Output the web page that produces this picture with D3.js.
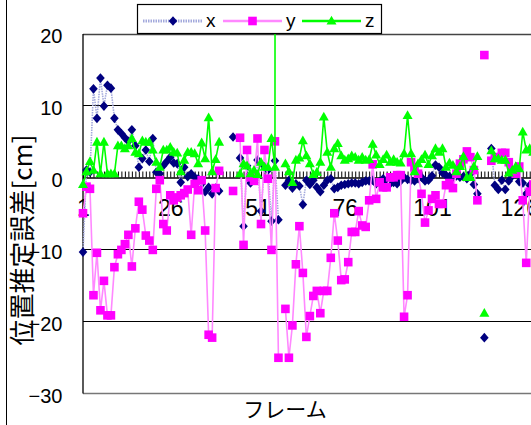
<!DOCTYPE html>
<html>
<head>
<meta charset="utf-8">
<script src="https://cdn.jsdelivr.net/npm/d3@7/dist/d3.min.js"></script>
<style>
  html, body { margin: 0; padding: 0; background: #fff; }
  svg { display: block; }
</style>
</head>
<body>
<svg id="chart" width="531" height="425"></svg>
<script>
// Frame numbers (category axis) and labelled frames
const frameCount = 140;
const frameLabels = [1, 26, 51, 76, 101, 126];
const yTicks = [-30, -20, -10, 0, 10, 20];

// Position estimation error per frame [cm]; null = missing frame
const xErr = [
  -10.4, 1.0, 0.7, 12.3, 8.2, 13.8, 9.9, 12.8, 12.4, 8.2,
  6.6, 6.1, 5.5, 5.0, 6.6, 4.4, 1.4, 2.6, 3.8, 2.2,
  5.4, 0.7, 0.5, 1.6, 2.2, 2.8, 2.0, 1.9, -0.7, 1.4,
  0.1, 0.5, 0.0, -0.2, -0.9, -2.0, -1.4, -2.3, -1.5, -1.9,
  null, null, null, 5.6, null, 2.7, -6.8, 1.6, -0.8, 0.3,
  2.4, -4.7, 1.5, 1.0, -6.1, 2.3, -5.9, null, -1.1, -0.4,
  -1.5, -0.9, -1.2, -3.8, -0.4, -1.0, -0.4, -1.4, -2.0, -1.1,
  -0.4, -0.2, -1.6, -1.4, -1.1, -1.0, -0.9, -0.8, -0.8, -0.9,
  -0.7, -0.5, -0.5, -0.4, -0.9, -0.6, -0.2, -0.5, -0.9, -0.7,
  -0.9, -0.5, 0.0, -0.3, -0.4, -0.5, -0.2, 0.0, -0.5, -0.4,
  0.2, 1.7, 1.4, 0.6, 0.3, 0.1, 0.0, 0.2, 0.0, 0.1,
  -0.2, 0.5, -1.0, -2.3, null, -22.3, null, 4.0, -1.1, -1.7,
  -0.4, -1.7, -0.5, 0.2, 0.5, -0.6, -0.8, -2.3, -1.1, -1.5
];
const yErr = [
  -5.0, -1.3, -1.6, -16.4, -10.5, -18.5, -14.4, -19.2, -19.2, -12.5,
  -10.7, -10.1, -9.3, -8.0, -12.4, -7.1, -3.4, -4.5, -8.1, -8.8,
  -10.1, -1.6, -0.4, -6.5, -7.4, -2.5, -3.2, -2.8, -2.5, -2.2,
  -1.7, -8.0, -0.9, -1.8, -0.4, -7.4, -21.9, -22.3, -1.5, 0.9,
  null, null, null, -1.9, null, 5.5, -9.4, 3.8, 0.0, -0.5,
  5.4, -6.5, 3.8, -0.2, -10.1, 5.0, -25.1, null, -18.3, -25.1,
  -20.6, -12.1, -6.8, -13.3, -22.2, -19.3, -16.5, -15.8, -18.9, -15.8,
  -15.8, -11.2, -5.0, -8.8, -14.3, -14.2, -11.8, -7.6, -7.6, -4.7,
  -6.7, -6.9, -3.2, 1.8, -3.0, -0.7, -1.4, -1.4, 0.0, 0.0,
  0.3, 0.3, -19.4, -16.4, 2.1, 1.4, 0.5, -2.3, -6.3, -4.6,
  -3.0, -2.5, -3.7, -3.7, -1.1, -0.8, -1.5, 0.5, 1.9, 2.5,
  3.6, 2.8, 1.0, -3.2, null, 17.0, null, 2.3, 2.8, 2.8,
  3.4, 3.4, 2.1, 1.0, 0.5, 1.5, -3.2, -11.9, -2.0, -1.0
];
const zErr = [
  -1.0, 0.8, 2.2, 1.0, 4.9, 0.5, 4.9, 0.5, 0.5, 0.5,
  4.4, 4.4, 4.0, 4.4, 5.4, 3.5, 3.3, 5.1, 4.9, 4.9,
  3.8, 2.1, 1.4, 3.8, 3.8, 4.2, 3.5, 3.4, 0.8, 2.4,
  3.5, 3.5, 3.3, 1.9, 4.8, 2.6, 8.3, 0.8, 2.5, 4.9,
  null, null, null, null, null, 0.5, 1.9, 1.6, 0.5, 1.0,
  0.4, 2.1, 1.4, 1.4, 5.4, 1.4, 900, null, 1.9, 0.8,
  -0.7, 2.4, 2.7, 5.1, 3.0, 1.9, 0.4, 0.7, 2.1, 8.4,
  3.5, 1.4, 4.0, 4.7, 3.0, 2.4, 2.6, 3.0, 2.8, 2.4,
  2.8, 2.4, 2.5, 4.6, 3.1, 1.8, 2.5, 3.1, 2.1, 2.5,
  2.1, 2.0, 3.3, 8.6, 3.3, 0.8, 1.9, 2.5, 3.1, 1.8,
  3.0, 4.0, 3.5, 4.0, 1.4, 2.0, 1.7, 0.8, 1.5, 2.9,
  0.0, 0.0, 1.5, 2.9, null, -18.9, null, 3.7, 2.6, 2.6,
  2.4, 2.4, 0.6, 1.0, 1.5, 1.2, 6.3, 3.8, 4.0, 3.5
];

const seriesNames = ["x", "y", "z"];

const svg = d3.select("#chart");
const W = 531, H = 425;

// plot area
const plot = { left: 83, top: 33.5, bottom: 393 };
const step = 3.49;
const frames = d3.range(1, frameCount + 1);

const x = d3.scalePoint()
  .domain(frames)
  .range([plot.left, plot.left + (frameCount - 1) * step]);
const y = d3.scaleLinear().domain([-30, 20]).range([plot.bottom, plot.top]);

const numFont = "'Liberation Sans Narrow', 'Liberation Sans', Arial, sans-serif";
const cjkFont = "'Noto Sans CJK JP', 'Noto Sans CJK SC', sans-serif";

// chart area border
svg.append("rect")
  .attr("x", 6.5).attr("y", -2).attr("width", W + 10).attr("height", H + 10)
  .attr("fill", "#fff").attr("stroke", "#000").attr("stroke-width", 1);

// horizontal gridlines
svg.append("g").selectAll("line")
  .data([10, -10, -20])
  .join("line")
  .attr("x1", plot.left).attr("x2", W + 5)
  .attr("y1", d => Math.round(y(d)) + 0.5).attr("y2", d => Math.round(y(d)) + 0.5)
  .attr("stroke", "#000").attr("stroke-width", 1);

// plot frame (top and bottom edges)
svg.append("line")
  .attr("x1", plot.left).attr("x2", W + 5)
  .attr("y1", Math.round(y(20)) + 0.5).attr("y2", Math.round(y(20)) + 0.5)
  .attr("stroke", "#444").attr("stroke-width", 1.3);
svg.append("line")
  .attr("x1", plot.left).attr("x2", W + 5)
  .attr("y1", Math.round(y(-30)) + 0.5).attr("y2", Math.round(y(-30)) + 0.5)
  .attr("stroke", "#777").attr("stroke-width", 1.3);

// y axis
const yAxis = svg.append("g")
  .attr("transform", `translate(${plot.left - 0.5},0)`)
  .call(d3.axisLeft(y).tickValues(yTicks).tickSize(0).tickPadding(20)
    .tickFormat(d => d < 0 ? "\u2212" + Math.abs(d) : String(d)));
yAxis.select(".domain").attr("stroke", "#000").attr("stroke-width", 1.3);
yAxis.selectAll("text")
  .attr("font-family", numFont).attr("font-size", 20).attr("fill", "#000")
  .attr("dy", "0.45em");

// x axis along zero, with small tick marks at each frame
const xAxis = svg.append("g")
  .attr("transform", `translate(0,${Math.round(y(0)) + 0.5})`)
  .call(d3.axisBottom(x).tickSize(-6).tickPadding(22)
    .tickFormat(d => frameLabels.includes(d) ? String(d) : ""));
xAxis.select(".domain").attr("stroke", "#000").attr("stroke-width", 1.3);
xAxis.selectAll(".tick line").attr("stroke", "#000").attr("stroke-width", 1);
xAxis.selectAll("text")
  .attr("font-family", numFont).attr("font-size", 23).attr("fill", "#000");

// axis titles
svg.append("text")
  .attr("transform", `translate(32,240) rotate(-90)`)
  .attr("text-anchor", "middle")
  .attr("font-family", cjkFont).attr("font-size", 26).attr("fill", "#000")
  .text("位置推定誤差[cm]");
svg.append("text")
  .attr("x", 285).attr("y", 417)
  .attr("text-anchor", "middle")
  .attr("font-family", cjkFont).attr("font-size", 21).attr("fill", "#000")
  .text("フレーム");

// clip for lines
svg.append("clipPath").attr("id", "plotClip")
  .append("rect").attr("x", 0).attr("y", plot.top).attr("width", W + 10).attr("height", plot.bottom - plot.top);

// marker shapes centred on (0,0)
const markerPaths = {
  diamond: "M0,-4.8L4.3,0L0,4.8L-4.3,0Z",
  square: "M-4.3,-4.3H4.3V4.3H-4.3Z",
  triangle: "M0,-5.2L5,3.6H-5Z"
};

const styles = {
  x: { line: "#a3a9dc", width: 1.6, dash: "1.5 1", marker: "#000080", shape: "diamond" },
  y: { line: "#ff88ff", width: 1.6, dash: null, marker: "#ff00ff", shape: "square" },
  z: { line: "#00ff00", width: 1.6, dash: null, marker: "#00ff00", shape: "triangle" }
};

const seriesData = { x: xErr, y: yErr, z: zErr };

function drawSeries(name) {
  const st = styles[name];
  const pts = frames.map((f, i) => ({ f, v: seriesData[name][i] === undefined ? null : seriesData[name][i] }));
  const g = svg.append("g").attr("class", "series-" + name);
  const line = d3.line()
    .defined(d => d.v !== null)
    .x(d => x(d.f))
    .y(d => y(d.v));
  g.append("path")
    .attr("d", line(pts))
    .attr("clip-path", "url(#plotClip)")
    .attr("fill", "none")
    .attr("stroke", st.line)
    .attr("stroke-width", st.width)
    .attr("stroke-dasharray", st.dash);
  g.selectAll("path.mk")
    .data(pts.filter(d => d.v !== null && d.v >= -30 && d.v <= 20))
    .join("path")
    .attr("class", "mk")
    .attr("transform", d => `translate(${x(d.f)},${y(d.v)})`)
    .attr("d", markerPaths[st.shape])
    .attr("fill", st.marker);
}
seriesNames.forEach(drawSeries);

// legend
const legend = svg.append("g");
legend.append("rect")
  .attr("x", 137.5).attr("y", 4.5).attr("width", 244).attr("height", 29)
  .attr("fill", "#fff").attr("stroke", "#000").attr("stroke-width", 1.2);
const legendItems = [
  { name: "x", x0: 143, x1: 203, tx: 206 },
  { name: "y", x0: 223, x1: 282, tx: 286 },
  { name: "z", x0: 302, x1: 361, tx: 365 }
];
legendItems.forEach(it => {
  const st = styles[it.name];
  legend.append("line")
    .attr("x1", it.x0).attr("x2", it.x1).attr("y1", 21).attr("y2", 21)
    .attr("stroke", st.line).attr("stroke-width", it.name === "x" ? 3 : 2.5)
    .attr("stroke-dasharray", st.dash);
  legend.append("path")
    .attr("transform", `translate(${(it.x0 + it.x1) / 2},21)`)
    .attr("d", markerPaths[st.shape])
    .attr("fill", st.marker);
  legend.append("text")
    .attr("x", it.tx).attr("y", 27)
    .attr("font-family", "'Liberation Sans', Arial, sans-serif")
    .attr("font-size", 19).attr("fill", "#000")
    .text(it.name);
});
</script>
</body>
</html>
